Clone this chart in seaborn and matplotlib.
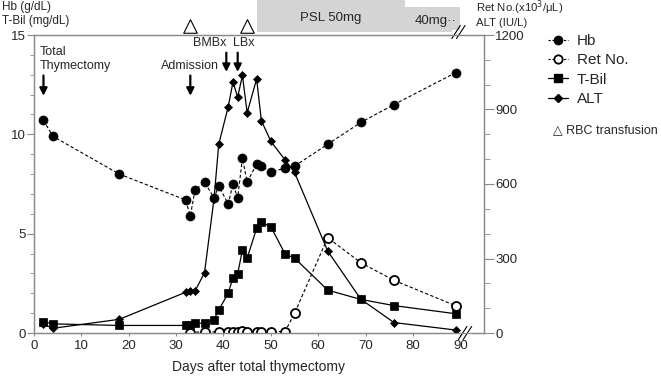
import numpy as np
import matplotlib
matplotlib.use("Agg")
import matplotlib.pyplot as plt
import matplotlib.transforms as mtransforms
from matplotlib.lines import Line2D
import seaborn as sns

# data
hb_day = [2, 4, 18, 32, 33, 34, 36, 38, 39, 41, 42, 43, 44, 45, 47, 48, 50, 53, 55, 62, 69, 76, 89]
hb = [10.7, 9.9, 8.0, 6.7, 5.9, 7.2, 7.6, 6.8, 7.4, 6.5, 7.5, 6.8, 8.8, 7.6, 8.5, 8.4, 8.1, 8.3, 8.4, 9.5, 10.6, 11.5, 13.1]

ret_day = [33, 36, 39, 41, 42, 43, 44, 45, 47, 48, 50, 53, 55, 62, 69, 76, 89]
ret = [2, 5, 4, 3, 6, 6, 9, 3, 6, 4, 6, 6, 79, 384, 283, 212, 110]

tbil_day = [2, 4, 18, 32, 33, 34, 36, 38, 39, 41, 42, 43, 44, 45, 47, 48, 50, 53, 55, 62, 69, 76, 89]
tbil = [0.57, 0.46, 0.38, 0.38, 0.4, 0.49, 0.49, 0.67, 1.16, 2.0, 2.78, 2.98, 4.18, 3.77, 5.27, 5.57, 5.35, 3.98, 3.77, 2.16, 1.69, 1.38, 0.97]

alt_day = [2, 4, 18, 32, 33, 34, 36, 38, 39, 41, 42, 43, 44, 45, 47, 48, 50, 53, 55, 62, 69, 76, 89]
alt = [35, 19, 55, 164, 169, 169, 243, 540, 760, 911, 1010, 950, 1037, 887, 1023, 855, 772, 697, 647, 330, 136, 42, 12]

transfusion_days = [33, 45]
events = ["Total\nThymectomy", "Admission", "BMBx", "LBx"]
event_days = [2, 33, 40.6, 43]

sns.set_style("ticks")
plt.rcParams['font.family'] = ['Liberation Sans', 'DejaVu Sans']

spine_col = '#8a8a8a'

fig = plt.figure(figsize=(6.61, 3.8), dpi=100)
ax = fig.add_axes([34/661, 1-333/380, 450/661, 298/380])
ax2 = ax.twinx()

# left axis: Hb and T-Bil
sns.lineplot(x=hb_day, y=hb, ax=ax, color='black', marker='o', markersize=6.5,
             markeredgecolor='black', markeredgewidth=0.5,
             linestyle=(0, (3, 2)), lw=0.8, sort=False, legend=False)
sns.lineplot(x=tbil_day, y=tbil, ax=ax, color='black', marker='s', markersize=5.5,
             markeredgecolor='black', markeredgewidth=0.5,
             lw=0.9, sort=False, legend=False)

# right axis: Ret No. and ALT
sns.lineplot(x=ret_day, y=ret, ax=ax2, color='black', marker='o', markersize=6.5,
             markerfacecolor='white', markeredgecolor='black', markeredgewidth=1.3,
             linestyle=(0, (3, 2)), lw=0.8, sort=False, legend=False)
sns.lineplot(x=alt_day, y=alt, ax=ax2, color='black', marker='D', markersize=3.8,
             markeredgecolor='black', markeredgewidth=0.5,
             lw=0.9, sort=False, legend=False)

ax.set_xlim(0, 95)
ax.set_ylim(0, 15)
ax2.set_ylim(0, 1200)
ax.set_xticks(range(0, 91, 10))
ax.set_yticks([0, 5, 10, 15])
ax.set_yticks(range(0, 16), minor=True)
ax2.set_yticks([0, 300, 600, 900, 1200])
ax2.set_yticks(range(0, 1201, 100), minor=True)

for a in (ax, ax2):
    for s in a.spines.values():
        s.set_color(spine_col)
        s.set_linewidth(0.9)
ax.tick_params(axis='y', which='major', length=5, color=spine_col, labelsize=9.5, pad=1)
ax.tick_params(axis='y', which='minor', length=3, color=spine_col)
ax.tick_params(axis='x', length=2, color=spine_col, labelsize=9.5, pad=3)
ax2.tick_params(axis='y', which='major', length=7, color=spine_col, labelsize=9.5, pad=1)
ax2.tick_params(axis='y', which='minor', length=4, color=spine_col)
ax.set_xlabel("Days after total thymectomy", fontsize=10, labelpad=6)
ax.set_ylabel("")
ax2.set_ylabel("")

# axis titles
fig.text(2/661, 1-10/380, "Hb (g/dL)", fontsize=8.5, va='baseline', ha='left')
fig.text(2/661, 1-24/380, "T-Bil (mg/dL)", fontsize=8.5, va='baseline', ha='left')
fig.text(476/661, 1-12/380, "Ret No.(x10$^3$/μL)", fontsize=8.2, va='baseline', ha='left')
fig.text(476/661, 1-25.5/380, "ALT (IU/L)", fontsize=8.2, va='baseline', ha='left')

# event arrows
trans_top = mtransforms.blended_transform_factory(ax.transData, ax.transAxes)
arrow_kw = dict(arrowstyle='-|>', color='black', lw=1.6, mutation_scale=11)
ax.annotate("", xy=(event_days[0], 11.8), xytext=(event_days[0], 13.1), arrowprops=arrow_kw)
ax.text(1.2, 13.8, events[0], fontsize=9, ha='left', va='center', linespacing=1.2)
ax.annotate("", xy=(event_days[1], 11.8), xytext=(event_days[1], 13.1), arrowprops=arrow_kw)
ax.text(event_days[1], 13.45, events[1], fontsize=9, ha='center', va='center')
ax.annotate("", xy=(event_days[2], 13.0), xytext=(event_days[2], 14.25), arrowprops=arrow_kw)
ax.text(37.0, 14.6, events[2], fontsize=9, ha='center', va='center')
ax.annotate("", xy=(event_days[3], 13.0), xytext=(event_days[3], 14.25), arrowprops=arrow_kw)
ax.text(44.3, 14.6, events[3], fontsize=9, ha='center', va='center')

# RBC transfusion triangles
ax.scatter(transfusion_days, [1.03] * len(transfusion_days), transform=trans_top, marker='^',
           s=95, facecolors='white', edgecolors='black', linewidths=0.8, clip_on=False, zorder=5)

# PSL boxes
ax.add_patch(plt.Rectangle((47, 1.010), 31.3, 0.12, transform=trans_top, color='#d4d4d4',
                           clip_on=False, zorder=0, lw=0))
ax.add_patch(plt.Rectangle((78.3, 1.010), 11.7, 0.084, transform=trans_top, color='#d4d4d4',
                           clip_on=False, zorder=0, lw=0))
ax.text(62.7, 1.057, "PSL 50mg", transform=trans_top, fontsize=9.5, ha='center', va='center')
ax.text(89.3, 1.047, "40mg··", transform=trans_top, fontsize=9.5, ha='right', va='center')


# axis break marks
def brk(xc, yc):
    ax.plot([xc - 1.4, xc + 1.4], [yc, yc], transform=trans_top, color='white', lw=3,
            clip_on=False, zorder=6, solid_capstyle='butt')
    for off in (-0.5, 0.5):
        ax.plot([xc + off - 0.9, xc + off + 0.9], [yc - 0.022, yc + 0.022], transform=trans_top,
                color='black', lw=0.8, clip_on=False, zorder=7)


brk(89.6, 1.01)
brk(91.0, 0.0)

# legend
handles = [
    Line2D([], [], color='black', marker='o', markersize=6, linestyle=(0, (2, 1.5)), lw=0.8),
    Line2D([], [], color='black', marker='o', markersize=6, markerfacecolor='white',
           markeredgewidth=1.3, linestyle=(0, (2, 1.5)), lw=0.8),
    Line2D([], [], color='black', marker='s', markersize=5.5, lw=0.9),
    Line2D([], [], color='black', marker='D', markersize=3.8, lw=0.9),
]
fig.legend(handles, ["Hb", "Ret No.", "T-Bil", "ALT"], loc='upper left',
           bbox_to_anchor=(548/661, 1-34/380), frameon=False, fontsize=11,
           handlelength=1.3, handletextpad=0.6, labelspacing=0.35, borderaxespad=0, borderpad=0)
fig.text(553/661, 1-130/380, "△ RBC transfusion", fontsize=9, ha='left', va='center',
         family=['Liberation Sans', 'DejaVu Sans'])

fig.savefig("out.png", dpi=100)
